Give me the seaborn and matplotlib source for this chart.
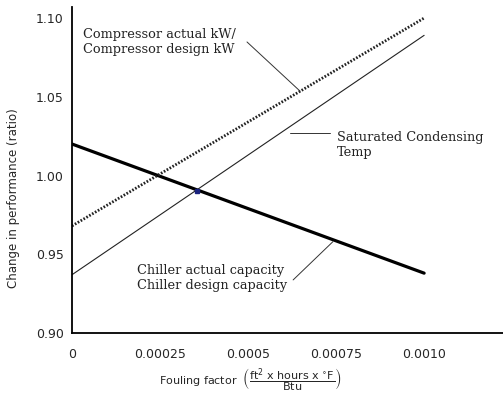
import pandas as pd
import seaborn as sns
import matplotlib.pyplot as plt

# Values
fouling = [0.0, 0.0010]
chiller_capacity = [1.020, 0.938]
compressor_kw = [0.968, 1.100]
condensing_temp = [0.937, 1.089]
marker_x = [0.000355]
marker_y = [0.990]
x_ticks = [0, 0.00025, 0.0005, 0.00075, 0.0010]
x_tick_labels = ["0", "0.00025", "0.0005", "0.00075", "0.0010"]
y_ticks = [0.90, 0.95, 1.00, 1.05, 1.10]
y_tick_labels = ["0.90", "0.95", "1.00", "1.05", "1.10"]

data = pd.DataFrame({
    "fouling": fouling,
    "chiller": chiller_capacity,
    "compressor": compressor_kw,
    "condensing": condensing_temp,
})

sns.set_style("white")
plt.rcParams["font.family"] = ["DejaVu Sans Condensed", "Liberation Sans Narrow", "DejaVu Sans"]
plt.rcParams["mathtext.fontset"] = "dejavusans"

fig = plt.figure(figsize=(5.03, 4.01), dpi=100)
ax = fig.add_axes([72 / 503, 1 - 333 / 401, 431 / 503, 326 / 401])

sns.lineplot(data=data, x="fouling", y="chiller", ax=ax, color="black", linewidth=2.3)
sns.lineplot(data=data, x="fouling", y="compressor", ax=ax, color="#222222",
             linewidth=2.0, linestyle=(0, (0.6, 0.6)))
sns.lineplot(data=data, x="fouling", y="condensing", ax=ax, color="#222222", linewidth=0.8)
ax.plot(marker_x, marker_y, marker="s", markersize=3.5, color="#1a237e", linestyle="none")

ax.set_xlim(0, 0.001224)
ax.set_ylim(0.90, 1.107)
ax.set_xticks(x_ticks)
ax.set_xticklabels(x_tick_labels)
ax.set_yticks(y_ticks)
ax.set_yticklabels(y_tick_labels)
ax.tick_params(axis="x", length=0, pad=11, labelsize=9)
ax.tick_params(axis="y", length=0, pad=6, labelsize=9)

for side in ["top", "right"]:
    ax.spines[side].set_visible(False)
for side in ["left", "bottom"]:
    ax.spines[side].set_color("black")
    ax.spines[side].set_linewidth(1.3)

ax.set_ylabel("Change in performance (ratio)", fontsize=8.5)
ax.yaxis.set_label_coords(-0.12, 0.414)
ax.set_xlabel(r"Fouling factor  $\left(\dfrac{\mathrm{ft^2\ x\ hours\ x\ ^{\circ}F}}{\mathrm{Btu}}\right)$",
              fontsize=8)
ax.xaxis.set_label_coords(0.415, -0.102)

serif = {"family": "DejaVu Serif", "fontsize": 9.3, "color": "#222222", "linespacing": 1.15}
ax.text(0.0000313, 1.0848, "Compressor actual kW/\nCompressor design kW", ha="left", va="center", **serif)
ax.text(0.000753, 1.0194, "Saturated Condensing\nTemp", ha="left", va="center", **serif)
ax.text(0.000185, 0.935, "Chiller actual capacity\nChiller design capacity", ha="left", va="center", **serif)

lead = {"color": "#333333", "linewidth": 0.7}
ax.plot([0.000497, 0.000648], [1.0848, 1.0535], **lead)
ax.plot([0.000619, 0.000733], [1.027, 1.027], **lead)
ax.plot([0.000628, 0.000741], [0.9337, 0.958], **lead)

fig.savefig("out.png", dpi=100)
